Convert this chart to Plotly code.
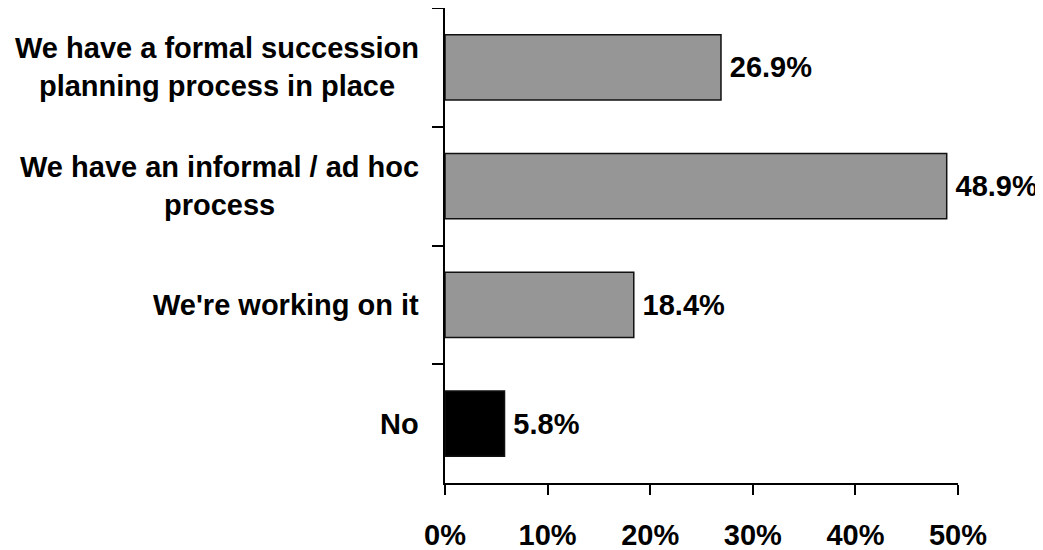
import plotly.graph_objects as go

# Survey responses, top to bottom
categories = [
    "We have a formal succession<br>planning process in place",
    "We have an informal / ad hoc<br>process",
    "We're working on it",
    "No",
]
values = [26.9, 48.9, 18.4, 5.8]
bar_colors = ["#969696", "#969696", "#969696", "#000000"]
tick_vals = [0, 10, 20, 30, 40, 50]
tick_text = ["0%", "10%", "20%", "30%", "40%", "50%"]

font = dict(family="Liberation Sans, Arial, sans-serif", size=29, color="black", weight="bold")

fig = go.Figure()

fig.add_trace(go.Bar(
    x=values,
    y=categories,
    orientation="h",
    width=0.55,
    marker=dict(color=bar_colors, line=dict(color="#111111", width=1.5)),
    text=[f"\u2009{v:.1f}%" for v in values],
    textposition="outside",
    textfont=font,
    constraintext="none",
    cliponaxis=False,
))

# category labels as centred annotations left of the axis
for cat in categories:
    fig.add_annotation(
        x=0, xref="paper", xanchor="right", xshift=-24,
        y=cat, yref="y",
        text=cat, showarrow=False, align="center",
        font=font,
    )

# page body adds ~8px offset, so margins are trimmed to compensate
fig.update_layout(
    width=1043,
    height=550,
    margin=dict(l=437, r=93, t=0, b=75),
    plot_bgcolor="white",
    paper_bgcolor="white",
    showlegend=False,
    font=font,
)

fig.update_xaxes(
    range=[0, 50],
    tickvals=tick_vals,
    ticktext=tick_text,
    showgrid=False,
    zeroline=False,
    showline=True,
    linecolor="black",
    linewidth=2,
    ticks="outside",
    ticklen=10,
    tickwidth=2,
    tickcolor="black",
    ticklabelstandoff=15,
    tickfont=font,
    automargin=False,
)

fig.update_yaxes(
    autorange="reversed",
    showgrid=False,
    showline=True,
    linecolor="black",
    linewidth=2,
    ticks="outside",
    tickson="boundaries",
    ticklen=11,
    tickwidth=2,
    tickcolor="black",
    showticklabels=False,
    automargin=False,
)

fig.write_html("out.html")
